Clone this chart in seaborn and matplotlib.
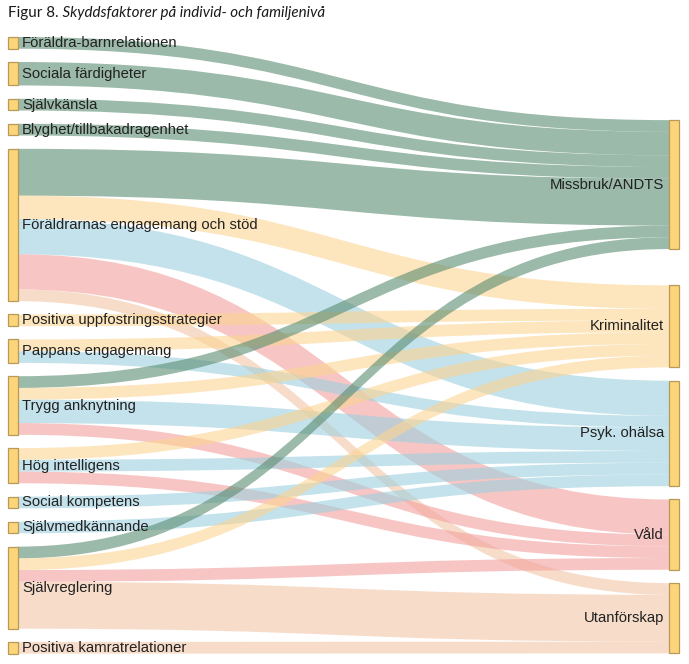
import matplotlib
matplotlib.use("Agg")
import matplotlib.pyplot as plt
import seaborn as sns
import pandas as pd
from matplotlib.path import Path
from matplotlib.patches import PathPatch, Rectangle

# ---------------- data ----------------
sources = ["Föräldra-barnrelationen", "Sociala färdigheter", "Självkänsla",
           "Blyghet/tillbakadragenhet", "Föräldrarnas engagemang och stöd",
           "Positiva uppfostringsstrategier", "Pappans engagemang", "Trygg anknytning",
           "Hög intelligens", "Social kompetens", "Självmedkännande", "Självreglering",
           "Positiva kamratrelationer"]
targets = ["Missbruk/ANDTS", "Kriminalitet", "Psyk. ohälsa", "Våld", "Utanförskap"]

link_source = ["Föräldra-barnrelationen", "Sociala färdigheter", "Självkänsla",
               "Blyghet/tillbakadragenhet",
               "Föräldrarnas engagemang och stöd", "Föräldrarnas engagemang och stöd",
               "Föräldrarnas engagemang och stöd", "Föräldrarnas engagemang och stöd",
               "Föräldrarnas engagemang och stöd",
               "Positiva uppfostringsstrategier",
               "Pappans engagemang", "Pappans engagemang",
               "Trygg anknytning", "Trygg anknytning", "Trygg anknytning", "Trygg anknytning",
               "Hög intelligens", "Hög intelligens", "Hög intelligens",
               "Social kompetens", "Självmedkännande",
               "Självreglering", "Självreglering", "Självreglering", "Självreglering",
               "Positiva kamratrelationer"]
link_target = ["Missbruk/ANDTS", "Missbruk/ANDTS", "Missbruk/ANDTS", "Missbruk/ANDTS",
               "Missbruk/ANDTS", "Kriminalitet", "Psyk. ohälsa", "Våld", "Utanförskap",
               "Kriminalitet",
               "Kriminalitet", "Psyk. ohälsa",
               "Missbruk/ANDTS", "Kriminalitet", "Psyk. ohälsa", "Våld",
               "Kriminalitet", "Psyk. ohälsa", "Våld",
               "Psyk. ohälsa", "Psyk. ohälsa",
               "Missbruk/ANDTS", "Kriminalitet", "Våld", "Utanförskap",
               "Utanförskap"]
link_value = [1, 2, 1, 1,
              4, 2, 3, 3, 1,
              1,
              1, 1,
              1, 1, 2, 1,
              1, 1, 1,
              1, 1,
              1, 1, 1, 4,
              1]

title_bold = "Figur 8."
title_italic = " Skyddsfaktorer på individ- och familjenivå"

# ---------------- style / layout ----------------
sns.set_theme(style="white")
plt.rcParams["font.family"] = ["Liberation Sans", "DejaVu Sans"]

W, H, DPI = 689, 664, 100
unit = 11.72          # px per value unit
gap = 13.3            # px between nodes
left_top = 37.0
right_bottom = 653.4
right_extra_gap = {"Kriminalitet": 23.0}   # extra space above node
node_w = 10
x_left = 7.5
x_right = 669.0
label_size = 10.7

target_colors = {"Missbruk/ANDTS": "#588c70", "Kriminalitet": "#fcd491",
                 "Psyk. ohälsa": "#9ed0df", "Våld": "#f2a09e", "Utanförskap": "#f2c5a8"}
link_alpha = 0.6
node_face = "#fcd57a"
node_edge = "#b89a58"

df = pd.DataFrame({"source": link_source, "target": link_target, "value": link_value})
src_tot = df.groupby("source")["value"].sum()
tgt_tot = df.groupby("target")["value"].sum()

# node positions
src_pos = {}
y = left_top
for s in sources:
    h = src_tot[s] * unit
    src_pos[s] = (y, y + h)
    y += h + gap
tgt_pos = {}
y = right_bottom
for t in reversed(targets):
    h = tgt_tot[t] * unit
    tgt_pos[t] = (y - h, y)
    y -= h + gap + right_extra_gap.get(t, 0.0)

fig = plt.figure(figsize=(W / DPI, H / DPI), dpi=DPI)
ax = fig.add_axes([0, 0, 1, 1])
ax.set_xlim(0, W)
ax.set_ylim(H, 0)
ax.axis("off")

# link offsets
df["si"] = df["source"].map(sources.index)
df["ti"] = df["target"].map(targets.index)
src_off = {s: src_pos[s][0] for s in sources}
tgt_off = {t: tgt_pos[t][0] for t in targets}
s_y, t_y = {}, {}
for i, r in df.sort_values(["si", "ti"]).iterrows():
    s_y[i] = src_off[r.source]
    src_off[r.source] += r.value * unit
for i, r in df.sort_values(["ti", "si"]).iterrows():
    t_y[i] = tgt_off[r.target]
    tgt_off[r.target] += r.value * unit

x0 = x_left + node_w
x1 = x_right
xm = (x0 + x1) / 2
for i, r in df.iterrows():
    h = r.value * unit
    a0, b0 = s_y[i], t_y[i]
    a1, b1 = a0 + h, b0 + h
    verts = [(x0, a0), (xm, a0), (xm, b0), (x1, b0),
             (x1, b1), (xm, b1), (xm, a1), (x0, a1), (x0, a0)]
    codes = [Path.MOVETO, Path.CURVE4, Path.CURVE4, Path.CURVE4,
             Path.LINETO, Path.CURVE4, Path.CURVE4, Path.CURVE4, Path.CLOSEPOLY]
    ax.add_patch(PathPatch(Path(verts, codes), facecolor=target_colors[r.target],
                           edgecolor="none", alpha=link_alpha, zorder=1))

# nodes and labels
for s in sources:
    y0, y1 = src_pos[s]
    ax.add_patch(Rectangle((x_left, y0), node_w, y1 - y0, facecolor=node_face,
                           edgecolor=node_edge, lw=0.9, zorder=3))
    ax.text(x_left + node_w + 4.5, (y0 + y1) / 2, s, ha="left", va="center",
            fontsize=label_size, color="#222222", zorder=4)
for t in targets:
    y0, y1 = tgt_pos[t]
    ax.add_patch(Rectangle((x_right, y0), node_w, y1 - y0, facecolor=node_face,
                           edgecolor=node_edge, lw=0.9, zorder=3))
    ax.text(x_right - 5, (y0 + y1) / 2, t, ha="right", va="center",
            fontsize=label_size, color="#222222", zorder=4)

# title
t1 = ax.text(8, 12.5, title_bold, ha="left", va="center", fontsize=10.9,
             family=["Lato", "DejaVu Sans"], color="#1a1a1a")
ax.annotate(title_italic, xy=(1, 0), xycoords=t1, ha="left", va="bottom",
            fontsize=10.9, family=["Lato", "DejaVu Sans"], style="italic", color="#1a1a1a")

fig.savefig("out.png", dpi=DPI)
